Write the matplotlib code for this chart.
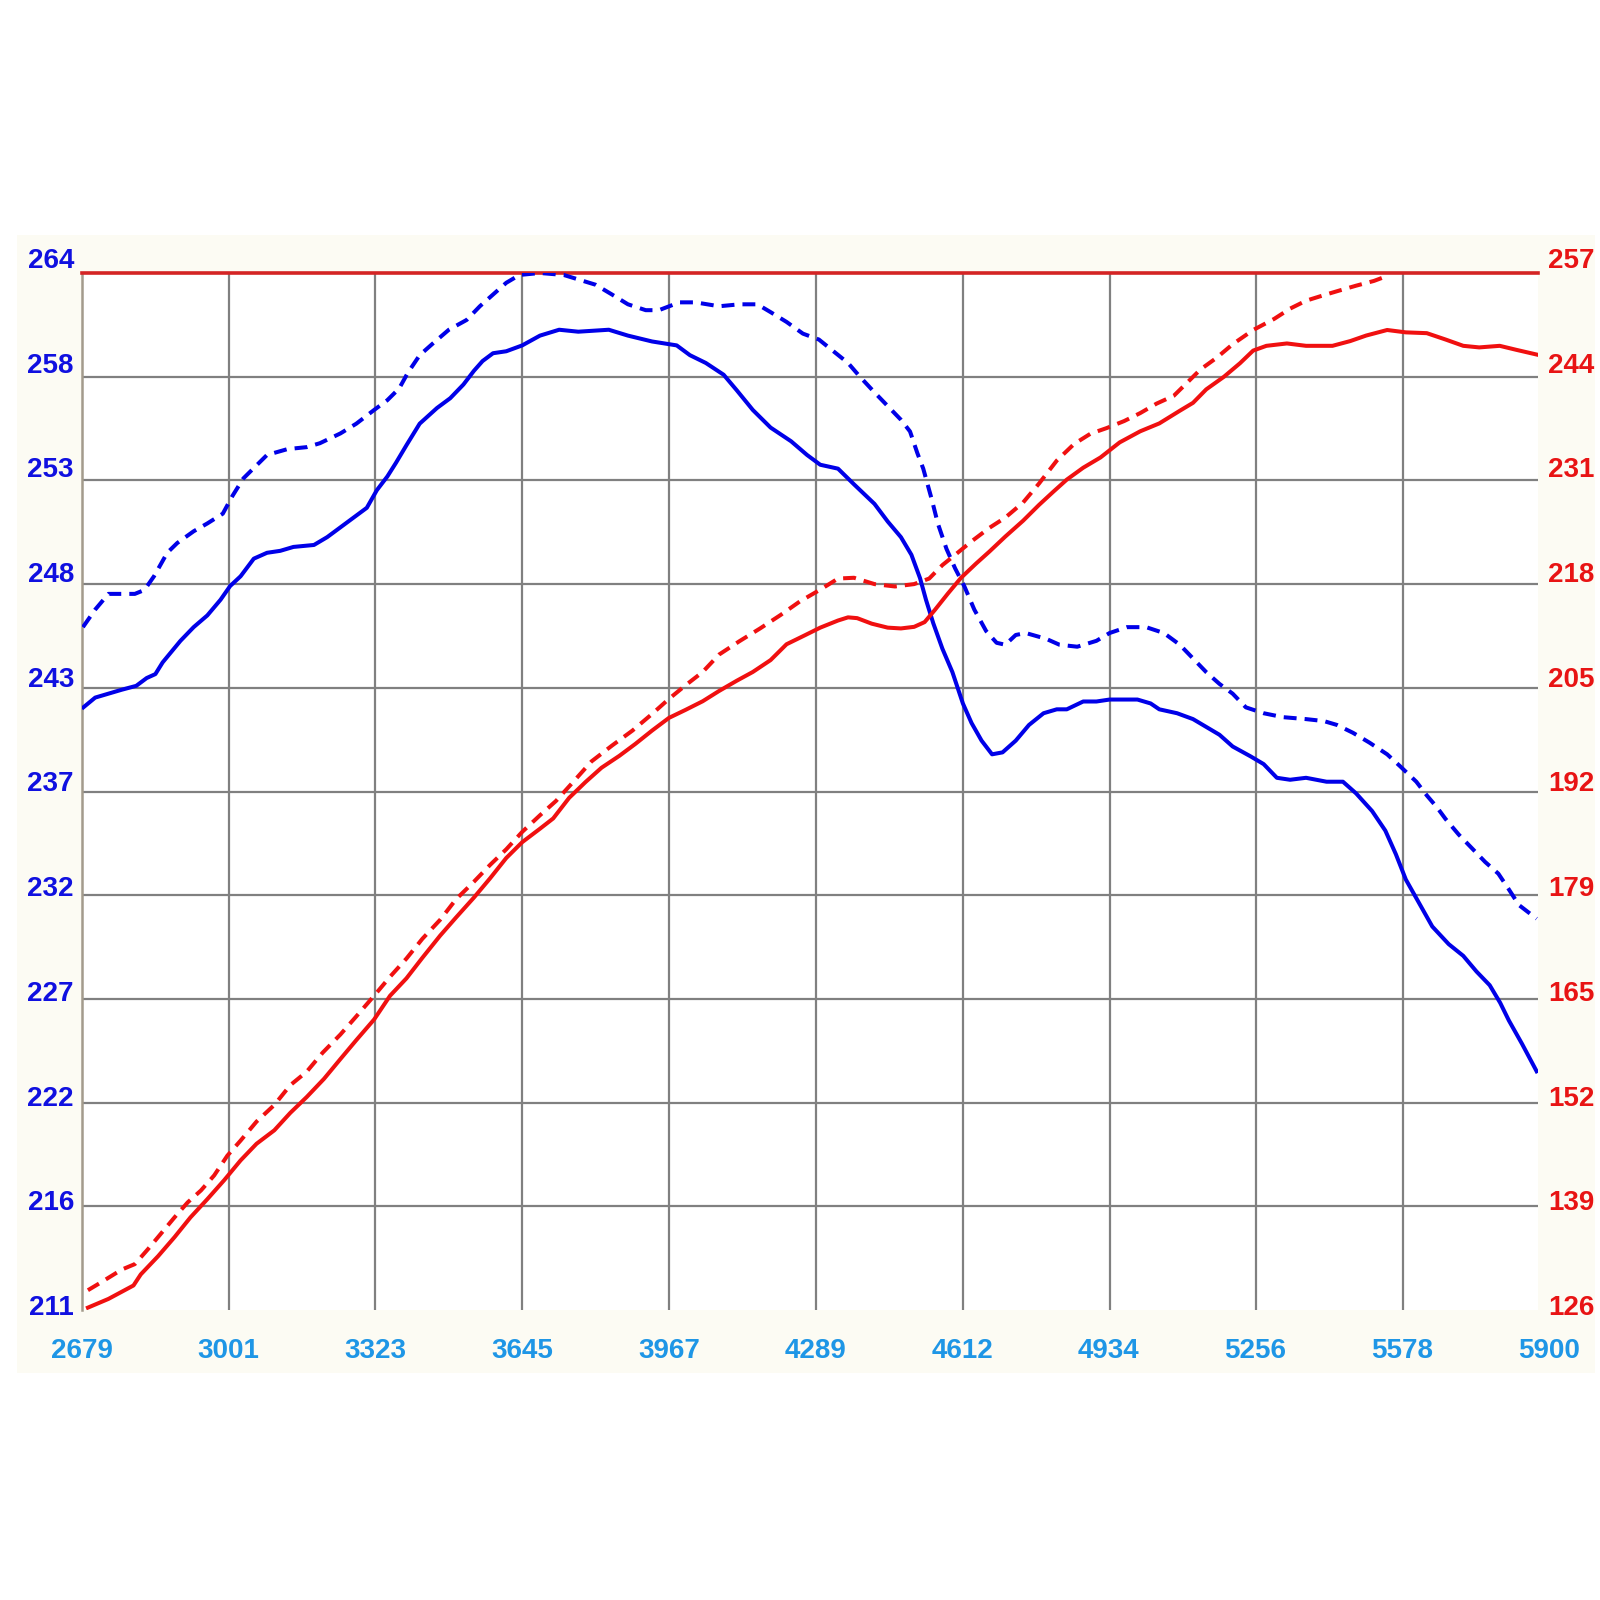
import numpy as np
import matplotlib
matplotlib.use("Agg")
import matplotlib.pyplot as plt
from matplotlib.patches import Rectangle

# axis labels as printed on the dyno sheet
rpm_labels = ["2679", "3001", "3323", "3645", "3967", "4289", "4612", "4934", "5256", "5578", "5900"]
left_labels = ["264", "258", "253", "248", "243", "237", "232", "227", "222", "216", "211"]
right_labels = ["257", "244", "231", "218", "205", "192", "179", "165", "152", "139", "126"]

# blue dashed (left scale)
rpm_blue_dash = [2681, 2708, 2737, 2795, 2816, 2837, 2866, 2888, 2924, 2954,
                 2988, 3009, 3033, 3059, 3085, 3130, 3172, 3201, 3246, 3281,
                 3320, 3349, 3375, 3394, 3420, 3449, 3484, 3523, 3552, 3581,
                 3610, 3639, 3684, 3736, 3806, 3842, 3877, 3916, 3945, 3990,
                 4025, 4077, 4122, 4161, 4190, 4225, 4261, 4296, 4328, 4360,
                 4386, 4418, 4447, 4476, 4496, 4512, 4525, 4544, 4557, 4576,
                 4595, 4615, 4637, 4663, 4686, 4705, 4728, 4750, 4795, 4824,
                 4863, 4905, 4934, 4972, 5014, 5053, 5088, 5117, 5146, 5175,
                 5204, 5233, 5272, 5314, 5365, 5404, 5433, 5468, 5504, 5543,
                 5571, 5607, 5630, 5652, 5671, 5700, 5729, 5758, 5787, 5810,
                 5832, 5871]
blue_dash = [245.9, 246.8, 247.6, 247.6, 247.8, 248.5, 249.7, 250.2, 250.8, 251.2,
             251.7, 252.6, 253.5, 254.1, 254.7, 255.0, 255.1, 255.3, 255.8, 256.3,
             257.0, 257.5, 258.1, 258.9, 259.8, 260.4, 261.1, 261.6, 262.3, 262.9,
             263.5, 263.9, 264.0, 263.9, 263.4, 262.9, 262.4, 262.1, 262.1, 262.5,
             262.5, 262.3, 262.4, 262.4, 262.0, 261.5, 260.9, 260.6, 260.0, 259.4,
             258.7, 257.9, 257.2, 256.5, 255.9, 254.8, 254.0, 252.4, 251.2, 249.9,
             248.9, 248.0, 246.8, 245.7, 245.1, 245.0, 245.5, 245.6, 245.3, 245.0,
             244.9, 245.2, 245.6, 245.9, 245.9, 245.6, 245.0, 244.3, 243.6, 243.0,
             242.5, 241.8, 241.5, 241.3, 241.2, 241.1, 240.9, 240.5, 240.0, 239.4,
             238.8, 238.0, 237.3, 236.7, 236.1, 235.3, 234.6, 233.9, 233.3, 232.5,
             231.7, 231.0]

# blue solid (left scale)
rpm_blue = [2682, 2708, 2737, 2766, 2798, 2821, 2840, 2856, 2895, 2924,
            2954, 2983, 3004, 3027, 3056, 3085, 3114, 3143, 3188, 3217,
            3246, 3275, 3304, 3326, 3349, 3368, 3391, 3420, 3458, 3487,
            3516, 3539, 3558, 3581, 3610, 3645, 3684, 3726, 3768, 3835,
            3877, 3930, 3984, 4013, 4048, 4087, 4116, 4151, 4190, 4235,
            4270, 4299, 4338, 4373, 4418, 4447, 4476, 4499, 4518, 4531,
            4547, 4567, 4589, 4612, 4631, 4653, 4676, 4699, 4728, 4757,
            4789, 4818, 4840, 4876, 4905, 4934, 4995, 5024, 5043, 5082,
            5117, 5146, 5175, 5204, 5243, 5272, 5301, 5330, 5365, 5410,
            5446, 5475, 5510, 5539, 5562, 5584, 5613, 5642, 5678, 5710,
            5739, 5768, 5791, 5810, 5839, 5871]
blue = [241.8, 242.3, 242.5, 242.7, 242.9, 243.3, 243.5, 244.1, 245.2, 245.9,
        246.5, 247.3, 248.0, 248.5, 249.4, 249.7, 249.8, 250.0, 250.1, 250.5,
        251.0, 251.5, 252.0, 252.9, 253.6, 254.3, 255.2, 256.3, 257.1, 257.6,
        258.3, 259.0, 259.5, 259.9, 260.0, 260.3, 260.8, 261.1, 261.0, 261.1,
        260.8, 260.5, 260.3, 259.8, 259.4, 258.8, 258.0, 257.0, 256.1, 255.4,
        254.7, 254.2, 254.0, 253.2, 252.2, 251.3, 250.5, 249.6, 248.4, 247.3,
        246.1, 244.8, 243.6, 242.0, 241.0, 240.1, 239.4, 239.5, 240.1, 240.9,
        241.5, 241.7, 241.7, 242.1, 242.1, 242.2, 242.2, 242.0, 241.7, 241.5,
        241.2, 240.8, 240.4, 239.8, 239.3, 238.9, 238.2, 238.1, 238.2, 238.0,
        238.0, 237.4, 236.5, 235.5, 234.3, 233.0, 231.8, 230.6, 229.7, 229.1,
        228.3, 227.6, 226.7, 225.8, 224.6, 223.2]

# red dashed (right scale)
rpm_red_dash = [2692, 2721, 2766, 2795, 2824, 2853, 2882, 2911, 2940, 2969,
                2998, 3027, 3062, 3101, 3136, 3172, 3207, 3246, 3281, 3320,
                3355, 3391, 3426, 3465, 3500, 3539, 3574, 3610, 3645, 3684,
                3719, 3752, 3797, 3842, 3887, 3930, 3967, 4003, 4041, 4077,
                4122, 4167, 4212, 4254, 4299, 4338, 4373, 4418, 4463, 4505,
                4538, 4567, 4595, 4631, 4670, 4705, 4744, 4779, 4818, 4856,
                4892, 4927, 4966, 5001, 5037, 5075, 5105, 5133, 5169, 5204,
                5249, 5295, 5330, 5365, 5404, 5439, 5475, 5514, 5542]
red_dash = [128.5, 129.5, 131.1, 131.8, 133.7, 135.7, 137.7, 139.6, 141.1, 143.0,
            145.5, 147.4, 149.8, 151.9, 154.4, 156.1, 158.5, 160.8, 163.1, 165.7,
            168.1, 170.4, 172.9, 175.3, 177.9, 180.1, 182.2, 184.2, 186.4, 188.5,
            190.3, 192.4, 195.3, 197.3, 199.2, 201.3, 203.2, 204.9, 206.6, 208.8,
            210.5, 212.1, 213.8, 215.5, 217.0, 218.4, 218.5, 217.7, 217.4, 217.7,
            218.4, 220.1, 221.4, 223.1, 224.8, 226.1, 228.0, 230.4, 233.3, 235.4,
            236.7, 237.4, 238.3, 239.3, 240.5, 241.5, 243.2, 244.8, 246.3, 248.0,
            249.8, 251.2, 252.5, 253.5, 254.2, 254.8, 255.4, 256.0, 256.6]

# red solid (right scale)
rpm_red = [2692, 2737, 2792, 2808, 2846, 2882, 2917, 2954, 2991, 3027,
           3062, 3101, 3136, 3172, 3210, 3246, 3281, 3320, 3355, 3391,
           3426, 3465, 3500, 3539, 3574, 3610, 3645, 3684, 3713, 3748,
           3784, 3819, 3858, 3893, 3930, 3967, 4003, 4041, 4077, 4116,
           4151, 4190, 4225, 4264, 4299, 4338, 4360, 4380, 4412, 4447,
           4476, 4505, 4528, 4550, 4579, 4608, 4641, 4670, 4705, 4744,
           4779, 4811, 4840, 4876, 4914, 4956, 5001, 5043, 5088, 5117,
           5146, 5185, 5220, 5249, 5278, 5323, 5365, 5423, 5462, 5497,
           5543, 5584, 5630, 5671, 5710, 5745, 5790, 5826, 5871]
red = [126.3, 127.4, 129.1, 130.5, 132.8, 135.2, 137.7, 140.0, 142.4, 144.9,
       147.0, 148.7, 150.9, 152.9, 155.2, 157.7, 160.1, 162.7, 165.7, 167.9,
       170.5, 173.3, 175.6, 178.1, 180.5, 183.1, 185.1, 186.8, 188.1, 190.7,
       192.7, 194.5, 196.0, 197.5, 199.2, 200.8, 201.8, 202.9, 204.2, 205.5,
       206.6, 208.1, 210.1, 211.2, 212.2, 213.1, 213.5, 213.4, 212.7, 212.2,
       212.1, 212.3, 212.9, 214.4, 216.5, 218.5, 220.3, 221.8, 223.7, 225.7,
       227.7, 229.4, 230.9, 232.4, 233.7, 235.6, 237.0, 238.0, 239.6, 240.6,
       242.3, 243.9, 245.6, 247.2, 247.8, 248.1, 247.8, 247.8, 248.4, 249.1,
       249.8, 249.5, 249.4, 248.6, 247.8, 247.6, 247.8, 247.3, 246.7]

W = H = 1600.0
fig = plt.figure(figsize=(16, 16), dpi=100)
fig.patch.set_facecolor("white")
# cream panel behind the chart
fig.patches.append(Rectangle((17 / W, 1 - 1373 / H), 1578 / W, 1138 / H,
                             transform=fig.transFigure, facecolor="#FCFBF3",
                             edgecolor="none", zorder=-10))

ax = fig.add_axes([82 / W, 1 - 1310 / H, 1456 / W, 1037 / H])
ax.set_facecolor("white")
ax.set_xlim(2679, 5874)
ax.set_ylim(211, 264)

xt = [int(s) for s in rpm_labels]
ax.set_xticks(xt[1:-1])
ax.set_yticks(np.linspace(211, 264, 11)[1:-1])
ax.grid(True, color="#808080", lw=1.6)
ax.set_axisbelow(True)
ax.tick_params(length=0, labelbottom=False, labelleft=False)
for s in ["right", "bottom"]:
    ax.spines[s].set_visible(False)
ax.spines["left"].set_color("#A39B8C")
ax.spines["left"].set_linewidth(1.8)
ax.spines["top"].set_color("#D42424")
ax.spines["top"].set_linewidth(2.6)

lw = 2.9
ax.plot(rpm_blue, blue, color="#0000E8", lw=lw, zorder=3)
ax.plot(rpm_blue_dash, blue_dash, color="#0000E8", lw=lw, dashes=(3.2, 2.0), zorder=3)

ax2 = ax.twinx()
ax2.set_ylim(126, 257)
ax2.set_yticks([])
for s in ax2.spines.values():
    s.set_visible(False)
ax2.plot(rpm_red, red, color="#F01010", lw=lw)
ax2.plot(rpm_red_dash, red_dash, color="#F01010", lw=lw, dashes=(3.2, 2.0))

font = dict(family=["Liberation Sans", "DejaVu Sans"], fontweight="bold", fontsize=20)
for k in range(11):
    y = 1 - (261 + k * 104.7) / H
    fig.text(74 / W, y, left_labels[k], ha="right", va="center", color="#1010E0", **font)
    fig.text(1548 / W, y, right_labels[k], ha="left", va="center", color="#E81414", **font)
    x = (82 + k * 146.7) / W
    fig.text(x, 1 - 1351 / H, rpm_labels[k], ha="center", va="center", color="#1E96E6", **font)

fig.savefig("out.png", dpi=100)
